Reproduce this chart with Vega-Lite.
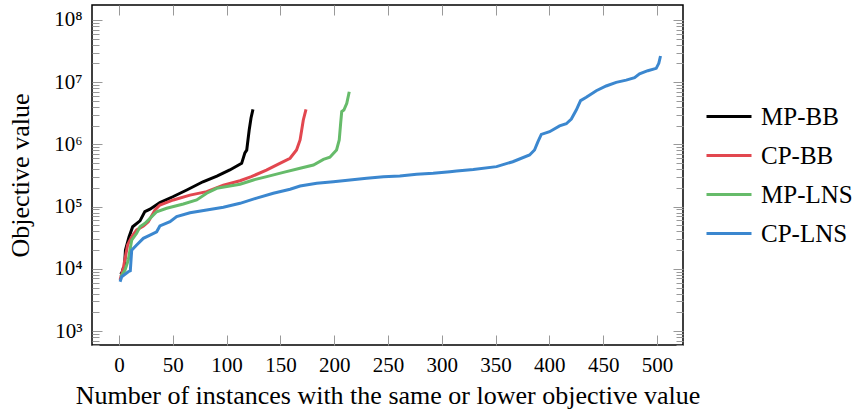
{
  "$schema": "https://vega.github.io/schema/vega-lite/v6.json",
  "autosize": "none",
  "width": 591,
  "height": 340,
  "padding": {"left": 92, "top": 5, "right": 172, "bottom": 64},
  "background": "white",
  "config": {
    "view": {"stroke": "black", "strokeWidth": 1.5},
    "font": "Liberation Serif",
    "axis": {"labelFont": "Liberation Serif", "titleFont": "Liberation Serif"},
    "legend": {"labelFont": "Liberation Serif"}
  },
  "data": {"values": [
    {"s":"MP-BB","n":1.6,"v":8200},{"s":"MP-BB","n":3,"v":9000},{"s":"MP-BB","n":4,"v":10300},{"s":"MP-BB","n":5,"v":10500},{"s":"MP-BB","n":6,"v":20000},{"s":"MP-BB","n":9.3,"v":32500},{"s":"MP-BB","n":12.7,"v":47500},{"s":"MP-BB","n":19.5,"v":59000},{"s":"MP-BB","n":24,"v":83000},{"s":"MP-BB","n":28.8,"v":91000},{"s":"MP-BB","n":38,"v":116000},{"s":"MP-BB","n":50,"v":144000},{"s":"MP-BB","n":63,"v":185000},{"s":"MP-BB","n":78,"v":251000},{"s":"MP-BB","n":91,"v":310000},{"s":"MP-BB","n":103,"v":388000},{"s":"MP-BB","n":114,"v":496000},{"s":"MP-BB","n":117,"v":730000},{"s":"MP-BB","n":118.7,"v":810000},{"s":"MP-BB","n":121,"v":1700000},{"s":"MP-BB","n":122.7,"v":2660000},{"s":"MP-BB","n":124.5,"v":3660000},
    {"s":"CP-BB","n":1,"v":6610},{"s":"CP-BB","n":4,"v":10300},{"s":"CP-BB","n":8,"v":24200},{"s":"CP-BB","n":11.8,"v":32800},{"s":"CP-BB","n":16.4,"v":42100},{"s":"CP-BB","n":22.7,"v":48800},{"s":"CP-BB","n":27.2,"v":57100},{"s":"CP-BB","n":33.5,"v":88100},{"s":"CP-BB","n":38,"v":106000},{"s":"CP-BB","n":50.5,"v":128000},{"s":"CP-BB","n":66,"v":153000},{"s":"CP-BB","n":81.5,"v":174000},{"s":"CP-BB","n":97,"v":222000},{"s":"CP-BB","n":112.5,"v":261000},{"s":"CP-BB","n":123,"v":303000},{"s":"CP-BB","n":137,"v":387000},{"s":"CP-BB","n":149.5,"v":497000},{"s":"CP-BB","n":159,"v":598000},{"s":"CP-BB","n":165,"v":813000},{"s":"CP-BB","n":168.3,"v":1180000},{"s":"CP-BB","n":169.8,"v":1710000},{"s":"CP-BB","n":171.3,"v":2470000},{"s":"CP-BB","n":173.8,"v":3660000},
    {"s":"MP-LNS","n":1.6,"v":7460},{"s":"MP-LNS","n":5.6,"v":9570},{"s":"MP-LNS","n":8.6,"v":13800},{"s":"MP-LNS","n":11.8,"v":29000},{"s":"MP-LNS","n":16.4,"v":37200},{"s":"MP-LNS","n":19.5,"v":47500},{"s":"MP-LNS","n":24.2,"v":54000},{"s":"MP-LNS","n":30.4,"v":68900},{"s":"MP-LNS","n":35,"v":82800},{"s":"MP-LNS","n":44.3,"v":94000},{"s":"MP-LNS","n":59.8,"v":110000},{"s":"MP-LNS","n":72.2,"v":128000},{"s":"MP-LNS","n":81.5,"v":164000},{"s":"MP-LNS","n":90.8,"v":197000},{"s":"MP-LNS","n":103,"v":214000},{"s":"MP-LNS","n":112.5,"v":229000},{"s":"MP-LNS","n":124.9,"v":268000},{"s":"MP-LNS","n":137.3,"v":303000},{"s":"MP-LNS","n":152.8,"v":355000},{"s":"MP-LNS","n":168.3,"v":413000},{"s":"MP-LNS","n":180.7,"v":467000},{"s":"MP-LNS","n":190,"v":575000},{"s":"MP-LNS","n":196,"v":621000},{"s":"MP-LNS","n":202.2,"v":813000},{"s":"MP-LNS","n":204.7,"v":1180000},{"s":"MP-LNS","n":206,"v":2180000},{"s":"MP-LNS","n":207,"v":3360000},{"s":"MP-LNS","n":209,"v":3570000},{"s":"MP-LNS","n":211.7,"v":4580000},{"s":"MP-LNS","n":214,"v":7030000},
    {"s":"CP-LNS","n":1,"v":6210},{"s":"CP-LNS","n":2.5,"v":7460},{"s":"CP-LNS","n":8.6,"v":8970},{"s":"CP-LNS","n":10.5,"v":9300},{"s":"CP-LNS","n":11.8,"v":20000},{"s":"CP-LNS","n":16.4,"v":24200},{"s":"CP-LNS","n":22.6,"v":30900},{"s":"CP-LNS","n":28.8,"v":34900},{"s":"CP-LNS","n":35,"v":39400},{"s":"CP-LNS","n":38,"v":48800},{"s":"CP-LNS","n":47.4,"v":57100},{"s":"CP-LNS","n":53.6,"v":68900},{"s":"CP-LNS","n":66,"v":79800},{"s":"CP-LNS","n":81.5,"v":88100},{"s":"CP-LNS","n":97,"v":97500},{"s":"CP-LNS","n":112.5,"v":113000},{"s":"CP-LNS","n":127.9,"v":137000},{"s":"CP-LNS","n":143.4,"v":164000},{"s":"CP-LNS","n":159,"v":190000},{"s":"CP-LNS","n":168.3,"v":214000},{"s":"CP-LNS","n":183.8,"v":237000},{"s":"CP-LNS","n":199.2,"v":251000},{"s":"CP-LNS","n":214.7,"v":268000},{"s":"CP-LNS","n":230.2,"v":285000},{"s":"CP-LNS","n":245.7,"v":303000},{"s":"CP-LNS","n":261,"v":310000},{"s":"CP-LNS","n":276.6,"v":330000},{"s":"CP-LNS","n":292,"v":343000},{"s":"CP-LNS","n":307.6,"v":364000},{"s":"CP-LNS","n":313.8,"v":373000},{"s":"CP-LNS","n":329.3,"v":395000},{"s":"CP-LNS","n":350.9,"v":439000},{"s":"CP-LNS","n":366,"v":527000},{"s":"CP-LNS","n":381.6,"v":676000},{"s":"CP-LNS","n":386.2,"v":813000},{"s":"CP-LNS","n":389.3,"v":1100000},{"s":"CP-LNS","n":392.5,"v":1450000},{"s":"CP-LNS","n":400.2,"v":1600000},{"s":"CP-LNS","n":409.5,"v":1980000},{"s":"CP-LNS","n":415.7,"v":2150000},{"s":"CP-LNS","n":420.4,"v":2560000},{"s":"CP-LNS","n":425,"v":3570000},{"s":"CP-LNS","n":429,"v":5050000},{"s":"CP-LNS","n":434.3,"v":5710000},{"s":"CP-LNS","n":443.6,"v":7290000},{"s":"CP-LNS","n":452.8,"v":8690000},{"s":"CP-LNS","n":462.1,"v":9950000},{"s":"CP-LNS","n":471.4,"v":10800000},{"s":"CP-LNS","n":479.2,"v":11800000},{"s":"CP-LNS","n":483.8,"v":13600000},{"s":"CP-LNS","n":491.5,"v":15300000},{"s":"CP-LNS","n":499.3,"v":16700000},{"s":"CP-LNS","n":501.7,"v":20100000},{"s":"CP-LNS","n":503.3,"v":26400000}
  ]},
  "layer": [
    {
      "mark": {"type": "line", "strokeWidth": 3, "clip": true},
      "encoding": {
        "x": {"field": "n", "type": "quantitative",
          "scale": {"domain": [-25.1, 524.2], "nice": false, "zero": false},
          "axis": {"orient": "bottom", "values": [0,50,100,150,200,250,300,350,400,450,500],
            "domain": false, "grid": false, "tickColor": "#999999", "tickSize": -10, "tickWidth": 1,
            "labelFont": "Liberation Serif", "labelFontSize": 21, "labelColor": "black", "labelPadding": 19,
            "title": "Number of instances with the same or lower objective value",
            "titleFont": "Liberation Serif", "titleFontSize": 26, "titleFontWeight": "normal", "titleColor": "black", "titlePadding": 7}},
        "y": {"field": "v", "type": "quantitative",
          "scale": {"type": "log", "domain": [596, 174200000], "nice": false},
          "axis": {"orient": "left",
            "values": [600,700,800,900,1000,2000,3000,4000,5000,6000,7000,8000,9000,10000,20000,30000,40000,50000,60000,70000,80000,90000,100000,200000,300000,400000,500000,600000,700000,800000,900000,1000000,2000000,3000000,4000000,5000000,6000000,7000000,8000000,9000000,10000000,20000000,30000000,40000000,50000000,60000000,70000000,80000000,90000000,100000000],
            "labelExpr": "abs(log(datum.value)/LN10 - round(log(datum.value)/LN10)) < 0.001 ? '10' + ['⁰','¹','²','³','⁴','⁵','⁶','⁷','⁸','⁹'][round(log(datum.value)/LN10)] : ''",
            "tickSize": {"condition": {"test": "abs(log(datum.value)/LN10 - round(log(datum.value)/LN10)) < 0.001", "value": -10}, "value": -7},
            "domain": false, "grid": false, "tickColor": "#999999", "tickWidth": 1,
            "labelOverlap": false, "labelFont": "Liberation Serif", "labelFontSize": 21, "labelColor": "black", "labelPadding": 20,
            "title": "Objective value", "titleFont": "Liberation Serif", "titleFontSize": 26, "titleFontWeight": "normal", "titleColor": "black", "titlePadding": 20}},
        "color": {"field": "s", "type": "nominal",
          "scale": {"domain": ["MP-BB","CP-BB","MP-LNS","CP-LNS"], "range": ["#000000","#e2474f","#66bb6a","#3b87cf"]},
          "legend": {"title": null, "orient": "none", "legendX": 613, "legendY": 92, "padding": 0,
            "symbolType": "stroke", "symbolSize": 2025, "symbolStrokeWidth": 3, "clipHeight": 39, "rowPadding": 0,
            "labelFont": "Liberation Serif", "labelFontSize": 25, "labelColor": "black", "labelOffset": 8}}
      }
    },
    {
      "mark": {"type": "line", "strokeOpacity": 0},
      "encoding": {
        "x": {"field": "n", "type": "quantitative",
          "scale": {"domain": [-25.1, 524.2], "nice": false, "zero": false},
          "axis": {"orient": "top", "values": [0,50,100,150,200,250,300,350,400,450,500],
            "domain": false, "grid": false, "labels": false, "tickColor": "#999999", "tickSize": -10, "tickWidth": 1, "title": null}},
        "y": {"field": "v", "type": "quantitative",
          "scale": {"type": "log", "domain": [596, 174200000], "nice": false},
          "axis": {"orient": "right",
            "values": [600,700,800,900,1000,2000,3000,4000,5000,6000,7000,8000,9000,10000,20000,30000,40000,50000,60000,70000,80000,90000,100000,200000,300000,400000,500000,600000,700000,800000,900000,1000000,2000000,3000000,4000000,5000000,6000000,7000000,8000000,9000000,10000000,20000000,30000000,40000000,50000000,60000000,70000000,80000000,90000000,100000000],
            "tickSize": {"condition": {"test": "abs(log(datum.value)/LN10 - round(log(datum.value)/LN10)) < 0.001", "value": -10}, "value": -7},
            "domain": false, "grid": false, "labels": false, "tickColor": "#999999", "tickWidth": 1, "title": null}},
        "detail": {"field": "s"}
      }
    }
  ],
  "resolve": {"axis": {"x": "independent", "y": "independent"}}
}
